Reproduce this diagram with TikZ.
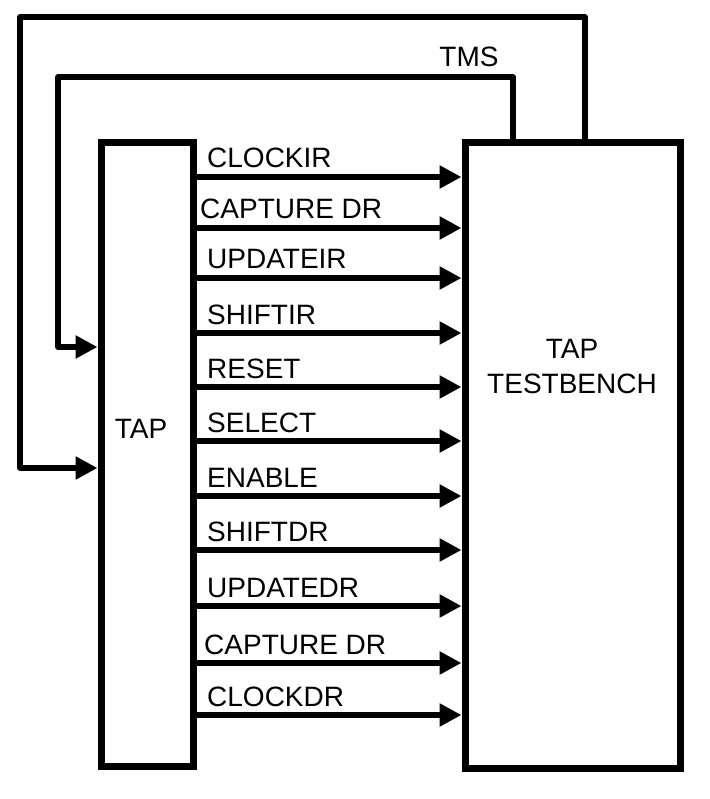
\documentclass[tikz,border=0pt]{standalone}
\usepackage{fontspec}
\setmainfont{Liberation Sans}
\usetikzlibrary{arrows.meta, positioning}

\begin{document}
\begin{tikzpicture}[x=1pt, y=-1pt,
    >={Triangle[length=22pt, width=22pt]},
    every node/.style={font=\fontsize{28}{32}\selectfont},
    blok/.style={draw, line width=7pt, inner sep=0pt, align=center},
    wire/.style={line width=5.5pt}]
    \useasboundingbox (0,0) rectangle (709,799);

    % Hai khoi chinh
    \node[blok, minimum width=92pt, minimum height=623pt] (tap) at (147,454.5) {};
    \node[blok, minimum width=215pt, minimum height=625pt] (tb) at (572.5,455.5) {};
    \node (tapname) at (141,429) {TAP};
    \node[align=center] (tbname) at (572,367) {TAP\\[3pt]TESTBENCH};

    % Cac tin hieu tu TAP sang testbench
    \foreach \ten/\y/\dx in {CLOCKIR/177/0, CAPTURE DR/228/-7, UPDATEIR/278/0,
        SHIFTIR/333/0, RESET/387/0, SELECT/441/0, ENABLE/496/0, SHIFTDR/550/0,
        UPDATEDR/606/0, CAPTURE DR/663/-3, CLOCKDR/715/0} {
        \draw[wire, ->] (tap.east |- 0,\y) -- (tb.west |- 0,\y);
        \node[anchor=base west, inner sep=0pt] at (207+\dx,\y-9) {\ten};
    }

    % Vong hoi tiep TMS
    \coordinate (tmsA) at (513,0);
    \coordinate (tmsB) at (58,77);
    \draw[wire, ->, line join=round] (tb.north -| tmsA) |- (tmsB) |- (tap.west |- 0,347);
    \node[anchor=base, inner sep=0pt] (tms) at (469,67) {TMS};

    % Vong ngoai cung
    \coordinate (outA) at (585,0);
    \coordinate (outB) at (20,17);
    \draw[wire, ->, line join=round] (tb.north -| outA) |- (outB) |- (tap.west |- 0,468);
\end{tikzpicture}
\end{document}
